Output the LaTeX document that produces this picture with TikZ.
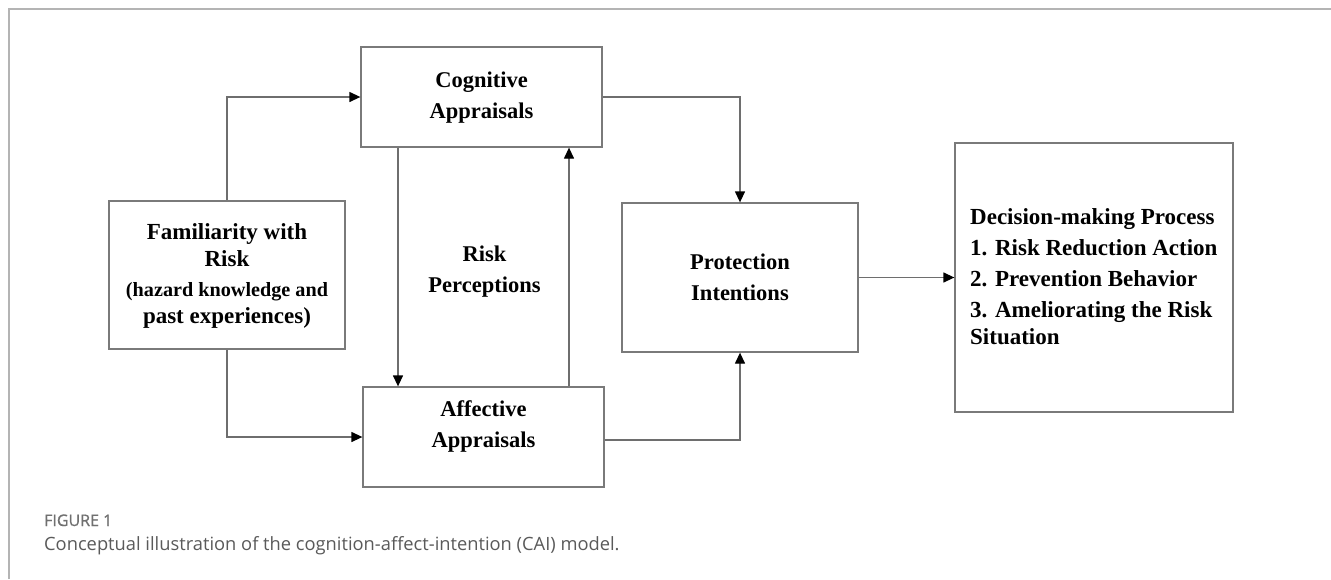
\documentclass[tikz,border=0pt]{standalone}
\usepackage{fontspec}
\setmainfont{Liberation Serif}
\newfontfamily\capfont{Open Sans}
\newfontfamily\capboldfont[FakeBold=0.8]{Open Sans}
\usetikzlibrary{arrows.meta,calc}
\definecolor{boxgray}{HTML}{7A7A7A}
\definecolor{linegray}{HTML}{6E6E6E}
\definecolor{framegray}{HTML}{B4B4B4}
\definecolor{capgray}{HTML}{5A5A5A}
\definecolor{figgray}{HTML}{707070}
\begin{document}
\begin{tikzpicture}[x=1pt,y=-1pt,
  box/.style={draw=boxgray, line width=1.3pt, inner sep=0pt, rectangle},
  conn/.style={draw=linegray, line width=1.3pt, -{Triangle[length=11pt,width=10pt,color=black]}},
  lbl/.style={font=\bfseries\fontsize{22.5}{31}\selectfont, align=center, inner sep=0pt}]
\useasboundingbox (0,0) rectangle (1331,579);
\fill[white] (0,0) rectangle (1331,579);
\draw[framegray, line width=1.5pt] (9,579) -- (9,9) -- (1331,9);

% boxes
\node[box, minimum width=236pt, minimum height=148pt] (fam) at (227,275) {};
\node[box, minimum width=241pt, minimum height=100pt] (cog) at (481.5,97) {};
\node[box, minimum width=241pt, minimum height=100pt] (aff) at (483.5,437) {};
\node[box, minimum width=236pt, minimum height=149pt] (prot) at (740,277.5) {};
\node[box, minimum width=278pt, minimum height=269pt] (dec) at (1094,277.5) {};

% texts
\node[lbl, font=\bfseries\fontsize{23}{27}\selectfont] (famtext) at (227,276) {Familiarity with\\Risk\\[3pt]
  \fontsize{20.2}{25}\selectfont (hazard knowledge and\\past experiences)};
\node[lbl] (cogtext) at (481.5,97.5) {Cognitive\\Appraisals};
\node[lbl] (afftext) at (483.5,426) {Affective\\Appraisals};
\node[lbl] (risktext) at (484.5,272) {Risk\\Perceptions};
\node[lbl] (prottext) at (740,277.5) {Protection\\Intentions};
\node[lbl, align=left, anchor=west, font=\bfseries\fontsize{23}{27}\selectfont] (dectext) at (970,277) {Decision-making Process\\[4pt]
  1. Risk Reduction Action\\[4pt]
  2. Prevention Behavior\\[4pt]
  3. Ameliorating the Risk\\
  Situation};

% helper coordinates for vertical links
\coordinate (c1) at (398,0);
\coordinate (c2) at (569,0);

% connectors
\draw[conn] (fam.north) |- (cog.west);
\draw[conn] (fam.south) |- (aff.west);
\draw[conn] (cog.south -| c1) -- (aff.north -| c1);
\draw[conn] (aff.north -| c2) -- (cog.south -| c2);
\draw[conn] (cog.east) -| (prot.north);
\draw[conn] ([yshift=-3pt]aff.east) -| (prot.south);
\draw[conn] (prot.east) -- (dec.west);

% caption
\node[anchor=base west, inner sep=0pt, text=figgray, font=\capboldfont\fontsize{16}{16}\selectfont] (figlbl) at (44,526) {FIGURE 1};
\node[anchor=base west, inner sep=0pt, text=capgray, font=\capfont\fontsize{18.3}{18.3}\selectfont] (caption) at (44,550) {Conceptual illustration of the cognition-affect-intention (CAI) model.};
\end{tikzpicture}
\end{document}
